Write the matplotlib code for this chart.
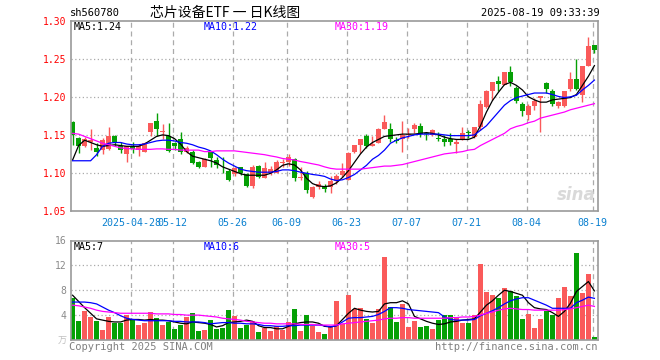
import numpy as np
import matplotlib
matplotlib.use('Agg')
import matplotlib.pyplot as plt

plt.rcParams['font.family'] = ['DejaVu Sans Mono', 'Noto Sans CJK SC']

# daily candles 2025-04-14 .. 2025-08-19 (88 trading days)
opens = [1.167, 1.146, 1.136, 1.140, 1.133, 1.130, 1.131, 1.149, 1.136, 1.125,
         1.135, 1.130, 1.128, 1.154, 1.168, 1.154, 1.149, 1.139, 1.144, 1.128,
         1.128, 1.115, 1.108, 1.127, 1.117, 1.103, 1.103, 1.098, 1.108, 1.099,
         1.083, 1.109, 1.094, 1.100, 1.100, 1.113, 1.115, 1.118, 1.093, 1.100,
         1.069, 1.082, 1.083, 1.081, 1.089, 1.097, 1.091, 1.127, 1.137, 1.148,
         1.136, 1.139, 1.158, 1.158, 1.143, 1.144, 1.150, 1.158, 1.162, 1.152,
         1.150, 1.146, 1.145, 1.145, 1.138, 1.144, 1.153, 1.147, 1.160, 1.187,
         1.207, 1.221, 1.216, 1.233, 1.211, 1.191, 1.176, 1.188, 1.198, 1.218,
         1.208, 1.188, 1.188, 1.210, 1.223, 1.203, 1.241, 1.268]
highs = [1.168, 1.147, 1.147, 1.158, 1.139, 1.146, 1.160, 1.150, 1.141, 1.136,
         1.141, 1.138, 1.141, 1.165, 1.179, 1.164, 1.166, 1.141, 1.154, 1.135,
         1.130, 1.116, 1.119, 1.128, 1.121, 1.121, 1.105, 1.108, 1.108, 1.100,
         1.111, 1.110, 1.115, 1.109, 1.117, 1.118, 1.125, 1.119, 1.108, 1.102,
         1.083, 1.089, 1.086, 1.096, 1.099, 1.113, 1.127, 1.137, 1.145, 1.151,
         1.148, 1.159, 1.176, 1.166, 1.147, 1.168, 1.159, 1.165, 1.165, 1.153,
         1.158, 1.154, 1.150, 1.152, 1.144, 1.160, 1.156, 1.161, 1.196, 1.209,
         1.220, 1.227, 1.233, 1.240, 1.214, 1.193, 1.190, 1.198, 1.201, 1.220,
         1.210, 1.194, 1.208, 1.232, 1.250, 1.241, 1.279, 1.268]
lows = [1.137, 1.126, 1.134, 1.130, 1.122, 1.125, 1.130, 1.135, 1.126, 1.114,
        1.126, 1.122, 1.127, 1.148, 1.148, 1.144, 1.128, 1.130, 1.125, 1.126,
        1.112, 1.106, 1.108, 1.108, 1.107, 1.100, 1.089, 1.096, 1.097, 1.082,
        1.080, 1.094, 1.093, 1.097, 1.100, 1.108, 1.109, 1.089, 1.091, 1.074,
        1.067, 1.079, 1.075, 1.074, 1.086, 1.095, 1.091, 1.126, 1.126, 1.133,
        1.135, 1.139, 1.158, 1.140, 1.139, 1.128, 1.146, 1.152, 1.147, 1.143,
        1.148, 1.142, 1.135, 1.137, 1.126, 1.143, 1.146, 1.146, 1.157, 1.185,
        1.196, 1.207, 1.215, 1.214, 1.192, 1.175, 1.170, 1.183, 1.154, 1.205,
        1.188, 1.185, 1.187, 1.208, 1.209, 1.193, 1.241, 1.258]
closes = [1.150, 1.136, 1.145, 1.143, 1.127, 1.143, 1.149, 1.140, 1.130, 1.136,
          1.132, 1.135, 1.139, 1.165, 1.158, 1.155, 1.129, 1.135, 1.127, 1.133,
          1.113, 1.108, 1.118, 1.119, 1.110, 1.102, 1.091, 1.106, 1.100, 1.083,
          1.108, 1.095, 1.106, 1.105, 1.115, 1.114, 1.121, 1.093, 1.094, 1.077,
          1.082, 1.085, 1.079, 1.089, 1.096, 1.102, 1.126, 1.137, 1.145, 1.135,
          1.138, 1.158, 1.167, 1.144, 1.142, 1.150, 1.151, 1.163, 1.151, 1.151,
          1.156, 1.145, 1.141, 1.141, 1.141, 1.153, 1.152, 1.160, 1.191, 1.208,
          1.219, 1.217, 1.232, 1.220, 1.194, 1.181, 1.188, 1.194, 1.201, 1.210,
          1.191, 1.193, 1.207, 1.223, 1.210, 1.240, 1.267, 1.261]
# volume in 万手
volumes = [6.8, 3.1, 4.6, 3.7, 3.1, 1.6, 3.7, 2.8, 2.8, 4.0,
           3.3, 2.4, 2.7, 4.5, 3.5, 2.4, 2.9, 1.8, 2.4, 3.7,
           4.3, 1.4, 1.6, 3.2, 1.8, 1.9, 4.8, 3.8, 1.9, 2.4,
           3.0, 1.3, 2.0, 1.4, 2.3, 1.6, 2.9, 5.0, 1.4, 4.0,
           2.3, 1.3, 1.0, 2.3, 6.3, 2.6, 7.2, 5.0, 5.1, 3.4,
           2.8, 5.0, 13.3, 5.3, 2.9, 5.8, 2.1, 3.1, 2.1, 2.3,
           1.8, 3.2, 4.0, 4.0, 3.6, 2.8, 2.7, 4.0, 12.2, 7.7,
           7.2, 6.7, 8.4, 7.9, 7.0, 3.4, 4.2, 2.0, 3.3, 4.7,
           4.0, 6.7, 8.5, 7.1, 14.0, 7.6, 10.6, 0.5]

# moving averages
ma5 = [1.117, 1.136, 1.143, 1.140, 1.137, 1.135, 1.136, 1.137, 1.136, 1.135,
       1.135, 1.135, 1.138, 1.143, 1.148, 1.150, 1.149, 1.145, 1.138, 1.128,
       1.122, 1.120, 1.118, 1.116, 1.113, 1.108, 1.105, 1.102, 1.099, 1.097,
       1.097, 1.097, 1.097, 1.0995, 1.104, 1.110, 1.112, 1.1105, 1.104, 1.093,
       1.086, 1.083, 1.082, 1.083, 1.087, 1.094, 1.103, 1.114, 1.125, 1.134,
       1.140, 1.144, 1.148, 1.149, 1.150, 1.151, 1.151, 1.151, 1.152, 1.153,
       1.152, 1.150, 1.147, 1.145, 1.144, 1.144, 1.144, 1.147, 1.162, 1.180,
       1.195, 1.206, 1.216, 1.219, 1.215, 1.209, 1.200, 1.196, 1.193, 1.193,
       1.196, 1.197, 1.198, 1.199, 1.203, 1.215, 1.227, 1.241]
ma10 = [1.116, 1.116, 1.116, 1.116, 1.124, 1.135, 1.139, 1.140, 1.140, 1.138,
        1.137, 1.137, 1.138, 1.140, 1.142, 1.143, 1.143, 1.142, 1.140, 1.139,
        1.137, 1.134, 1.132, 1.129, 1.124, 1.118, 1.113, 1.109, 1.105, 1.103,
        1.102, 1.101, 1.101, 1.101, 1.102, 1.104, 1.104, 1.103, 1.101, 1.0996,
        1.098, 1.097, 1.0955, 1.092, 1.090, 1.091, 1.094, 1.098, 1.104, 1.110,
        1.118, 1.123, 1.130, 1.139, 1.143, 1.146, 1.148, 1.150, 1.151, 1.151,
        1.151, 1.151, 1.150, 1.149, 1.149, 1.149, 1.149, 1.150, 1.156, 1.162,
        1.171, 1.180, 1.189, 1.195, 1.199, 1.201, 1.203, 1.205, 1.205, 1.205,
        1.203, 1.2005, 1.199, 1.200, 1.202, 1.209, 1.215, 1.222]
ma30 = [1.152, 1.151, 1.148, 1.145, 1.142, 1.139, 1.137, 1.135, 1.133, 1.132,
        1.1316, 1.131, 1.131, 1.131, 1.1316, 1.1316, 1.131, 1.131, 1.130, 1.130,
        1.130, 1.130, 1.128, 1.128, 1.129, 1.129, 1.129, 1.129, 1.128, 1.127,
        1.126, 1.125, 1.124, 1.1224, 1.121, 1.119, 1.118, 1.117, 1.115, 1.1136,
        1.112, 1.1105, 1.108, 1.106, 1.105, 1.105, 1.105, 1.105, 1.105, 1.106,
        1.107, 1.108, 1.109, 1.109, 1.110, 1.111, 1.113, 1.115, 1.117, 1.119,
        1.121, 1.123, 1.125, 1.126, 1.127, 1.128, 1.130, 1.131, 1.136, 1.140,
        1.144, 1.148, 1.152, 1.158, 1.161, 1.163, 1.166, 1.168, 1.172, 1.174,
        1.176, 1.178, 1.180, 1.183, 1.185, 1.187, 1.189, 1.191]
vol_ma5 = [7.2, 6.2, 5.2, 4.3, 3.4, 3.2, 3.0, 2.9, 2.9, 3.2,
           3.3, 3.3, 3.2, 3.3, 3.2, 3.2, 3.1, 2.9, 2.7, 2.6,
           2.9, 2.8, 2.7, 2.5, 2.1, 2.3, 2.8, 2.9, 3.0, 3.2,
           3.0, 2.3, 2.0, 2.0, 1.8, 1.8, 2.2, 2.6, 2.8, 2.9,
           2.9, 2.7, 2.2, 2.1, 2.3, 3.3, 4.3, 5.1, 4.8, 4.6,
           4.5, 4.6, 5.8, 6.0, 6.0, 6.3, 5.8, 3.8, 3.4, 3.0,
           2.7, 2.5, 2.6, 2.9, 3.0, 3.2, 3.3, 3.4, 4.5, 5.6,
           6.3, 7.2, 8.0, 7.8, 7.5, 7.2, 6.0, 5.2, 5.0, 4.9,
           4.4, 3.8, 4.6, 5.9, 7.8, 8.6, 9.4, 7.9]
vol_ma10 = [6.1, 6.1, 6.1, 6.0, 5.8, 5.3, 4.8, 4.4, 3.9, 3.5,
            3.3, 3.2, 3.1, 3.1, 3.1, 3.1, 3.1, 3.0, 3.0, 2.9,
            2.9, 2.9, 2.8, 2.6, 2.7, 2.8, 2.8, 2.7, 2.7, 2.6,
            2.6, 2.5, 2.3, 2.3, 2.2, 2.2, 2.3, 2.3, 2.4, 2.4,
            2.4, 2.4, 2.3, 2.1, 2.3, 2.9, 3.5, 3.6, 3.6, 3.7,
            3.8, 4.1, 4.6, 5.2, 5.2, 5.1, 4.9, 4.8, 4.7, 4.6,
            4.5, 4.4, 3.7, 3.3, 3.2, 3.2, 3.2, 3.3, 3.9, 4.3,
            4.7, 5.2, 5.8, 6.3, 6.6, 6.8, 6.8, 6.4, 6.0, 5.6,
            5.1, 5.1, 5.1, 5.1, 6.0, 6.4, 6.9, 6.7]
vol_ma30 = [5.6, 5.5, 5.3, 5.1, 4.8, 4.6, 4.5, 4.4, 4.3, 4.3,
            4.3, 4.3, 4.3, 4.3, 4.2, 4.2, 4.2, 4.1, 4.1, 4.0,
            4.0, 4.0, 3.9, 3.8, 3.7, 3.5, 3.4, 3.3, 3.2, 3.0,
            2.9, 2.8, 2.7, 2.7, 2.6, 2.6, 2.6, 2.6, 2.5, 2.5,
            2.5, 2.4, 2.4, 2.4, 2.4, 2.6, 2.7, 2.8, 2.9, 3.0,
            3.1, 3.2, 3.4, 3.5, 3.5, 3.6, 3.6, 3.5, 3.5, 3.5,
            3.5, 3.5, 3.5, 3.6, 3.6, 3.7, 3.7, 3.8, 4.0, 4.3,
            4.5, 4.8, 5.0, 5.1, 5.0, 4.9, 4.9, 4.8, 4.8, 4.8,
            4.8, 4.8, 4.9, 5.0, 5.2, 5.4, 5.6, 5.4]

tick_days = [10, 17, 27, 36, 46, 56, 66, 76, 87]
tick_labels = ['2025-04-28', '05-12', '05-26', '06-09', '06-23',
               '07-07', '07-21', '08-04', '08-19']
price_ticks = [1.05, 1.10, 1.15, 1.20, 1.25, 1.30]
vol_ticks = [4, 8, 12, 16]

RED = '#fa5a5a'
GREEN = '#05a005'
GRID = '#ababab'
FRAME = '#9a9a9a'

o = np.array(opens)
h = np.array(highs)
l = np.array(lows)
c = np.array(closes)
x = np.arange(len(c))
colors = [RED if cc >= oo else GREEN for oo, cc in zip(o, c)]

W, H = 660, 360
fig = plt.figure(figsize=(6.6, 3.6), dpi=100)
fig.patch.set_facecolor('white')
ax1 = fig.add_axes([70.5 / W, 149 / H, 527.5 / W, 190.3 / H])
ax2 = fig.add_axes([70.5 / W, 20 / H, 527.5 / W, 99.5 / H])

for ax in (ax1, ax2):
    ax.set_xlim(-0.35, 87.6)
    for s in ax.spines.values():
        s.set_color(FRAME)
        s.set_linewidth(1.2)
    for d in tick_days:
        ax.axvline(d - 0.3, color=GRID, lw=0.9, ls=(0, (4, 3)), zorder=1)
    ax.tick_params(length=0)

# price panel
ax1.set_ylim(1.05, 1.30)
for p in price_ticks[1:-1]:
    ax1.axhline(p, color=GRID, lw=0.9, ls=(0, (1, 2)), zorder=1)
ax1.vlines(x, l, h, colors=colors, lw=1, zorder=2)
body = np.maximum(np.abs(c - o), 0.0012)
ax1.bar(x, body, bottom=np.minimum(o, c), width=0.8, color=colors, zorder=2)
ax1.plot(x, ma5, color='black', lw=0.9, zorder=3)
ax1.plot(x, ma10, color='#0000ff', lw=0.9, zorder=3)
ax1.plot(x, ma30, color='#ff00ff', lw=0.9, zorder=3)
ax1.set_yticks(price_ticks)
ax1.set_yticklabels(['%.2f' % p for p in price_ticks])
ax1.tick_params(axis='y', labelcolor='red', labelsize=7, pad=3)
ax1.set_xticks([d - 0.3 for d in tick_days])
ax1.set_xticklabels(tick_labels)
ax1.tick_params(axis='x', labelcolor='#0a80d0', labelsize=7.2, pad=5)

# volume panel
ax2.set_ylim(0, 16)
for v in vol_ticks[:-1]:
    ax2.axhline(v, color=GRID, lw=0.9, ls=(0, (1, 2)), zorder=1)
ax2.bar(x, volumes, width=0.8, color=colors, zorder=2)
ax2.plot(x, vol_ma5, color='black', lw=0.9, zorder=3)
ax2.plot(x, vol_ma10, color='#0000ff', lw=0.9, zorder=3)
ax2.plot(x, vol_ma30, color='#ff00ff', lw=0.9, zorder=3)
ax2.set_yticks(vol_ticks)
ax2.set_yticklabels([str(v) for v in vol_ticks])
ax2.tick_params(axis='y', labelcolor='#8a8a8a', labelsize=7, pad=3)
ax2.set_xticks([])


def put(px, py, s, **kw):
    fig.text(px / W, 1 - py / H, s, va='center', **kw)


put(70, 13, 'sh560780', fontsize=7.5, color='black')
put(150, 13, '芯片设备ETF 一 日K线图', fontsize=10,
    family=['Noto Sans CJK SC', 'DejaVu Sans'], color='black')
put(600, 13, '2025-08-19 09:33:39', fontsize=7.5, color='black', ha='right')

put(74, 27, 'MA5:%.2f' % ma5[-1], fontsize=7.2, color='black')
put(204, 27, 'MA10:%.2f' % ma10[-1], fontsize=7.2, color='#0000ff')
put(335, 27, 'MA30:%.2f' % ma30[-1], fontsize=7.2, color='#ff00ff')
put(74, 247, 'MA5:%d' % int(vol_ma5[-1]), fontsize=7.2, color='black')
put(204, 247, 'MA10:%d' % int(vol_ma10[-1]), fontsize=7.2, color='#0000ff')
put(335, 247, 'MA30:%d' % int(vol_ma30[-1]), fontsize=7.2, color='#ff00ff')

put(67, 341, '万', fontsize=6.5, color='#c0c0c0', ha='right',
    family=['Noto Sans CJK SC', 'DejaVu Sans'])
put(69, 347, 'Copyright 2025 SINA.COM', fontsize=7.5, color='#808080')
put(598, 347, 'http://finance.sina.com.cn', fontsize=7.5, color='#808080', ha='right')
put(596, 195, 'sina', fontsize=12, color='#d9d9d9', ha='right',
    family='DejaVu Sans', style='italic', weight='bold')

fig.savefig('out.png', dpi=100)
